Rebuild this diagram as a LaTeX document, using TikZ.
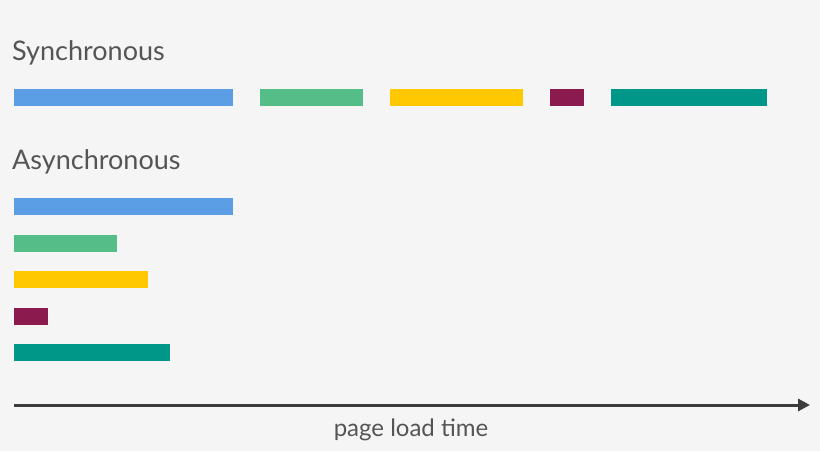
\documentclass[tikz,border=0pt]{standalone}
\usepackage{fontspec}
\setmainfont{Lato}
\usetikzlibrary{arrows.meta,positioning}

\definecolor{bgcol}{HTML}{F5F5F5}
\definecolor{txtcol}{HTML}{555555}
\definecolor{barblue}{HTML}{5B9EE6}
\definecolor{bargreen}{HTML}{55BD87}
\definecolor{baryellow}{HTML}{FFC800}
\definecolor{barmaroon}{HTML}{8B1A4F}
\definecolor{barteal}{HTML}{009688}

\begin{document}
\begin{tikzpicture}[x=1pt, y=-1pt, node distance=27pt]

% Define styles
\tikzstyle{bar} = [rectangle, inner sep=0pt, outer sep=0pt, minimum height=17pt, anchor=west]
\tikzstyle{heading} = [anchor=base west, inner sep=0pt, text=txtcol, font=\fontsize{27}{30}\selectfont]
\tikzstyle{arrow} = [line width=3pt, draw=txtcol!70!black, -{Triangle[length=12pt,width=12pt]}]

% Background
\fill [bgcol] (0,0) rectangle (820,451);

% Headings
\node [heading] (sync) at (12,60) {Synchronous};
\node [heading] (async) at (12,169) {Asynchronous};

% Synchronous bars
\node [bar, fill=barblue, minimum width=219pt] (s1) at (14,97.5) {};
\node [bar, fill=bargreen, minimum width=103pt, right=of s1] (s2) {};
\node [bar, fill=baryellow, minimum width=133pt, right=of s2] (s3) {};
\node [bar, fill=barmaroon, minimum width=34pt, right=of s3] (s4) {};
\node [bar, fill=barteal, minimum width=156pt, right=of s4] (s5) {};

% Asynchronous bars
\node [bar, fill=barblue, minimum width=219pt] (a1) at (14,206.5) {};
\node [bar, fill=bargreen, minimum width=103pt] (a2) at (14,243) {};
\node [bar, fill=baryellow, minimum width=134pt] (a3) at (14,279.5) {};
\node [bar, fill=barmaroon, minimum width=34pt] (a4) at (14,316) {};
\node [bar, fill=barteal, minimum width=156pt] (a5) at (14,352.5) {};

% Time axis
\coordinate (tstart) at (14,405);
\coordinate (tend) at (810,405);
\draw [arrow] (tstart) -- (tend);
\node [anchor=base, inner sep=0pt, text=txtcol, font=\fontsize{24}{28}\selectfont] (tlabel) at (411,436) {page load time};

\end{tikzpicture}
\end{document}
